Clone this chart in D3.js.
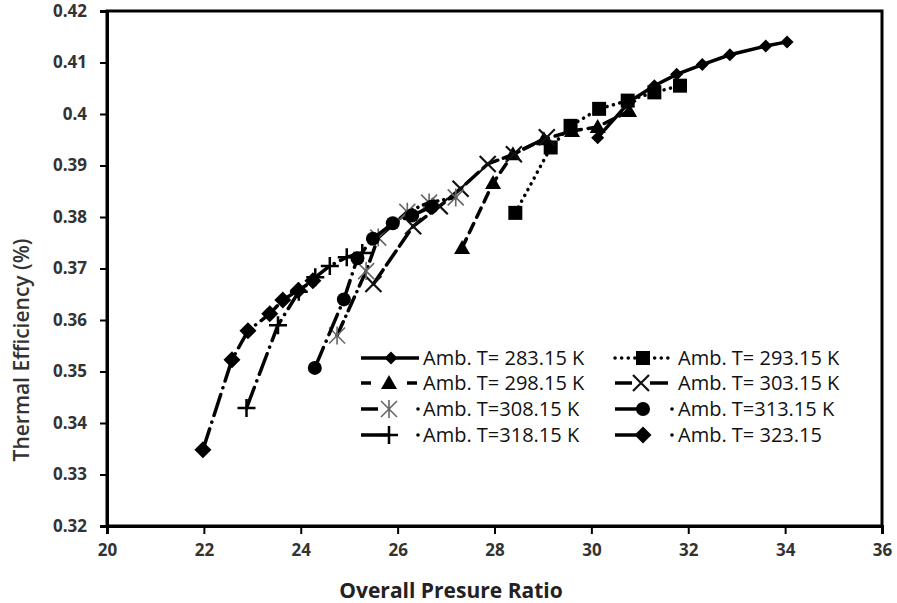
<!DOCTYPE html>
<html>
<head>
<meta charset="utf-8">
<script src="https://cdn.jsdelivr.net/npm/d3@7"></script>
<style>
  body { margin: 0; background: #fff; }
  text { font-family: "Open Sans", "Liberation Sans", Arial, sans-serif; }
</style>
</head>
<body>
<div id="chart"></div>
<script>
// Thermal efficiency vs overall pressure ratio

const width = 897,
    height = 603,
    margin = ({ top: 11, right: 15, bottom: 77, left: 107 });

// x ticks / y ticks
const xTicks = [20, 22, 24, 26, 28, 30, 32, 34, 36];
const yTicks = [0.32, 0.33, 0.34, 0.35, 0.36, 0.37, 0.38, 0.39, 0.4, 0.41, 0.42];

// one array per ambient temperature: [pressure ratio, efficiency]
const t283 = [[30.13, 0.3954], [30.8, 0.4025], [31.3, 0.4055], [31.76, 0.4077], [32.29, 0.4096], [32.86, 0.4115], [33.6, 0.4132], [34.04, 0.414]];
const t293 = [[28.43, 0.3808], [29.16, 0.3935], [29.57, 0.3977], [30.16, 0.401], [30.75, 0.4026], [31.3, 0.4042], [31.83, 0.4055]];
const t298 = [[27.33, 0.374], [27.97, 0.3866], [28.38, 0.3922], [29.02, 0.3951], [29.6, 0.3967], [30.13, 0.3975], [30.78, 0.4006]];
const t303 = [[25.5, 0.367], [26.32, 0.3782], [26.87, 0.3821], [27.3, 0.3855], [27.86, 0.3903], [28.4, 0.3922], [29.08, 0.3955]];
const t308 = [[24.75, 0.357], [25.35, 0.3695], [25.6, 0.376], [26.2, 0.381], [26.65, 0.3828], [27.2, 0.3838]];
const t313 = [[24.29, 0.3507], [24.89, 0.364], [25.17, 0.372], [25.49, 0.3758], [25.9, 0.3788], [26.3, 0.3803], [26.7, 0.382]];
const t318 = [[22.88, 0.3429], [23.53, 0.359], [23.96, 0.3655], [24.3, 0.3683], [24.6, 0.3705], [24.95, 0.3722], [25.27, 0.373]];
const t323 = [[21.98, 0.3348], [22.58, 0.3523], [22.91, 0.3579], [23.36, 0.3612], [23.63, 0.3639], [23.95, 0.3658], [24.25, 0.3676]];

const series = [
  { label: "Amb. T= 283.15 K", data: t283, dash: null, marker: "diamond", col: 0, row: 0 },
  { label: "Amb. T= 293.15 K", data: t293, dash: "0.1,6.5", marker: "square", col: 1, row: 0 },
  { label: "Amb. T= 298.15 K", data: t298, dash: "10,7", marker: "triangle", col: 0, row: 1 },
  { label: "Amb. T= 303.15 K", data: t303, dash: "17,6", marker: "x", col: 1, row: 1 },
  { label: "Amb. T=308.15 K", data: t308, dash: "15,6,0.1,6", marker: "asterisk", col: 0, row: 2 },
  { label: "Amb. T=313.15 K", data: t313, dash: "22,7,0.1,7", marker: "circle", col: 1, row: 2 },
  { label: "Amb. T=318.15 K", data: t318, dash: "22,7,0.1,7", marker: "plus", col: 0, row: 3 },
  { label: "Amb. T= 323.15", data: t323, dash: "22,7,0.1,7", marker: "bigdiamond", col: 1, row: 3 }
];

const svg = d3.select("#chart")
    .append("svg")
    .attr("width", width)
    .attr("height", height);

const x = d3.scaleLinear()
    .domain([20, 36])
    .range([margin.left, width - margin.right]);

const y = d3.scaleLinear()
    .domain([0.32, 0.42])
    .range([height - margin.bottom, margin.top]);

// frame
svg.append("rect")
    .attr("x", x(20))
    .attr("y", y(0.42))
    .attr("width", x(36) - x(20))
    .attr("height", y(0.32) - y(0.42))
    .attr("fill", "none")
    .attr("stroke", "#000")
    .attr("stroke-width", 3);

const xAxis = svg.append("g")
    .attr("transform", `translate(0,${y(0.32)})`)
    .call(d3.axisBottom(x).tickValues(xTicks).tickSize(8).tickPadding(10).tickFormat(d3.format("d")));

const yAxis = svg.append("g")
    .attr("transform", `translate(${x(20)},0)`)
    .call(d3.axisLeft(y).tickValues(yTicks).tickSize(7).tickPadding(13).tickFormat(d => d === 0.4 ? "0.4" : d3.format(".2f")(d)));

[xAxis, yAxis].forEach(g => {
  g.select(".domain").attr("stroke", "#000").attr("stroke-width", 3);
  g.selectAll(".tick line").attr("stroke", "#000").attr("stroke-width", 2);
  g.selectAll(".tick text")
    .attr("fill", "#333")
    .attr("font-size", 17)
    .attr("font-weight", "bold")
    .attr("font-family", "Open Sans, Liberation Sans, sans-serif");
});

// axis titles
svg.append("text")
    .attr("x", 451)
    .attr("y", 598)
    .attr("text-anchor", "middle")
    .attr("font-size", 21)
    .attr("font-weight", "bold")
    .attr("fill", "#222")
    .text("Overall Presure Ratio");

svg.append("text")
    .attr("transform", "translate(29,350) rotate(-90)")
    .attr("text-anchor", "middle")
    .attr("font-size", 21)
    .attr("font-weight", 600)
    .attr("fill", "#333")
    .text("Thermal Efficiency (%)");

function drawMarker(g, type, cx, cy) {
  if (type === "diamond" || type === "bigdiamond") {
    const s = type === "diamond" ? 6.5 : 8.5;
    g.append("path").attr("d", `M${cx},${cy - s}L${cx + s},${cy}L${cx},${cy + s}L${cx - s},${cy}Z`)
      .attr("fill", "#000");
  } else if (type === "square") {
    g.append("rect").attr("x", cx - 7).attr("y", cy - 7).attr("width", 14).attr("height", 14).attr("fill", "#000");
  } else if (type === "triangle") {
    g.append("path").attr("d", `M${cx},${cy - 8}L${cx + 8},${cy + 6}L${cx - 8},${cy + 6}Z`).attr("fill", "#000");
  } else if (type === "circle") {
    g.append("circle").attr("cx", cx).attr("cy", cy).attr("r", 7).attr("fill", "#000");
  } else if (type === "x") {
    const s = 8;
    g.append("path").attr("d", `M${cx - s},${cy - s}L${cx + s},${cy + s}M${cx - s},${cy + s}L${cx + s},${cy - s}`)
      .attr("stroke", "#111").attr("stroke-width", 2.2).attr("fill", "none");
  } else if (type === "plus") {
    const s = 9;
    g.append("path").attr("d", `M${cx - s},${cy}L${cx + s},${cy}M${cx},${cy - s}L${cx},${cy + s}`)
      .attr("stroke", "#000").attr("stroke-width", 2.5).attr("fill", "none");
  } else if (type === "asterisk") {
    const s = 8;
    g.append("path").attr("d", `M${cx - s},${cy - s}L${cx + s},${cy + s}M${cx - s},${cy + s}L${cx + s},${cy - s}M${cx},${cy - s - 1}L${cx},${cy + s + 1}`)
      .attr("stroke", "#666").attr("stroke-width", 1.6).attr("fill", "none");
  }
}

const line = d3.line()
    .x(d => x(d[0]))
    .y(d => y(d[1]));

const plot = svg.append("g");

series.forEach(s => {
  const g = plot.append("g");
  g.append("path")
    .datum(s.data)
    .attr("d", line)
    .attr("fill", "none")
    .attr("stroke", "#000")
    .attr("stroke-width", 3.5)
    .attr("stroke-linecap", s.dash ? "round" : "butt")
    .attr("stroke-dasharray", s.dash);
  s.data.forEach(d => drawMarker(g, s.marker, x(d[0]), y(d[1])));
});

// legend
const legend = svg.append("g");
const colX = [361, 615],
    textX = [423, 678],
    rowY = [358, 383, 409, 435];

series.forEach(s => {
  const lx = colX[s.col], ly = rowY[s.row];
  const g = legend.append("g");
  if (s.marker === "square") {
    g.append("path").attr("d", `M${lx},${ly}L${lx + 54},${ly}`)
      .attr("stroke", "#000").attr("stroke-width", 3.5).attr("stroke-linecap", "round").attr("stroke-dasharray", "0.1,6.5");
    drawMarker(g, s.marker, lx + 28, ly);
  } else if (s.marker === "triangle") {
    g.append("path").attr("d", `M${lx},${ly}L${lx + 10},${ly}M${lx + 46},${ly}L${lx + 56},${ly}`)
      .attr("stroke", "#000").attr("stroke-width", 3.5);
    drawMarker(g, s.marker, lx + 28, ly);
  } else if (s.marker === "x") {
    g.append("path").attr("d", `M${lx},${ly}L${lx + 17},${ly}M${lx + 35},${ly}L${lx + 53},${ly}`)
      .attr("stroke", "#000").attr("stroke-width", 3.5);
    drawMarker(g, s.marker, lx + 26, ly);
  } else if (s.marker === "diamond") {
    g.append("path").attr("d", `M${lx},${ly}L${lx + 58},${ly}`)
      .attr("stroke", "#000").attr("stroke-width", 3.5);
    drawMarker(g, s.marker, lx + 30, ly);
  } else {
    // dash then marker, then a dot
    const len = s.marker === "asterisk" ? 17 : 28;
    g.append("path").attr("d", `M${lx},${ly}L${lx + len},${ly}`)
      .attr("stroke", "#000").attr("stroke-width", 3.5);
    drawMarker(g, s.marker, lx + 28, ly);
    g.append("circle").attr("cx", lx + 57).attr("cy", ly).attr("r", 1.8).attr("fill", "#000");
  }
  g.append("text")
    .attr("x", textX[s.col])
    .attr("y", ly)
    .attr("dy", "0.36em")
    .attr("font-size", 20)
    .attr("fill", "#111")
    .text(s.label);
});
</script>
</body>
</html>
